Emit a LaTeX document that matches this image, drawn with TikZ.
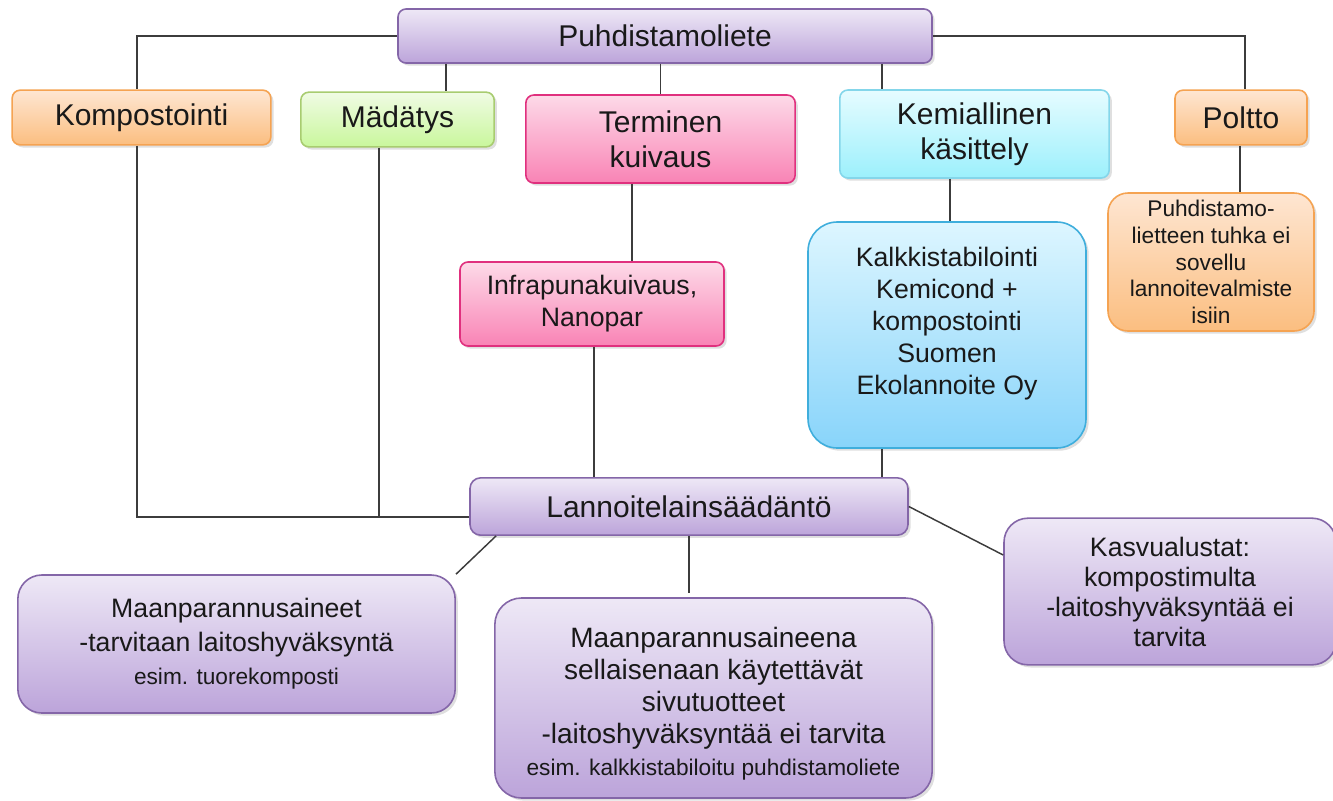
\documentclass[tikz,border=0pt]{standalone}
\usepackage{fontspec}
\setmainfont{Liberation Sans}
\usepackage{tikz}
\usetikzlibrary{shadows}

\definecolor{lavtop}{HTML}{EEE8F6}
\definecolor{lavbot}{HTML}{BCA4DA}
\definecolor{lavline}{HTML}{8466A8}
\definecolor{orgtop}{HTML}{FEE6D2}
\definecolor{orgbot}{HTML}{FBBE80}
\definecolor{orgline}{HTML}{F5A352}
\definecolor{grntop}{HTML}{F0FBE4}
\definecolor{grnbot}{HTML}{C9F79C}
\definecolor{grnline}{HTML}{A8CC70}
\definecolor{pnktop}{HTML}{FDDAE8}
\definecolor{pnkbot}{HTML}{F983B5}
\definecolor{pnkline}{HTML}{E0307E}
\definecolor{cyntop}{HTML}{E6FCFF}
\definecolor{cynbot}{HTML}{9CF0FC}
\definecolor{cynline}{HTML}{84D6EA}
\definecolor{skytop}{HTML}{DDF6FF}
\definecolor{skybot}{HTML}{88D4FA}
\definecolor{skyline}{HTML}{3FAEDC}
\definecolor{linkgray}{HTML}{3C3C3C}

\newcommand{\bigtxt}{\fontsize{22.5}{26}\selectfont}
\newcommand{\midtxt}{\fontsize{20}{24}\selectfont}
\newcommand{\smalltxt}{\fontsize{17}{20}\selectfont}

\begin{document}
\begin{tikzpicture}[x=0.75pt, y=-0.75pt,
    box/.style={draw, line width=1.2pt, rounded corners=6pt, align=center, inner sep=0pt,
        text=black!90, drop shadow={shadow xshift=2pt, shadow yshift=-2pt, opacity=0.25}},
    lavbox/.style={box, draw=lavline, top color=lavtop, bottom color=lavbot},
    orgbox/.style={box, draw=orgline, top color=orgtop, bottom color=orgbot},
    grnbox/.style={box, draw=grnline, top color=grntop, bottom color=grnbot},
    pnkbox/.style={box, draw=pnkline, top color=pnktop, bottom color=pnkbot},
    cynbox/.style={box, draw=cynline, top color=cyntop, bottom color=cynbot},
    skybox/.style={box, draw=skyline, top color=skytop, bottom color=skybot},
    link/.style={draw=linkgray, line width=1.1pt}]

    \useasboundingbox (0,0) rectangle (1333,800);

    % Top node
    \node[lavbox, minimum width=400.5pt, minimum height=40.5pt, font=\bigtxt] (liete) at (665,36) {Puhdistamoliete};

    % Treatment methods
    \node[orgbox, minimum width=194pt, minimum height=41pt, font=\bigtxt] (komp) at (141.5,117.5) {Kompostointi};
    \node[grnbox, minimum width=145pt, minimum height=41pt, font=\bigtxt] (mad) at (397.5,119.5) {Mädätys};
    \node[pnkbox, minimum width=202pt, minimum height=66pt, font=\bigtxt] (term) at (660.5,139) {Terminen\\kuivaus};
    \node[cynbox, minimum width=202pt, minimum height=66pt, font=\bigtxt] (kem) at (974.5,134) {Kemiallinen\\käsittely};
    \node[orgbox, minimum width=99pt, minimum height=41pt, font=\bigtxt] (poltto) at (1241,117.5) {Poltto};

    % Examples
    \node[pnkbox, minimum width=198pt, minimum height=63pt, font=\midtxt] (infra) at (592,304) {Infrapunakuivaus,\\Nanopar};
    \node[skybox, rounded corners=22pt, minimum width=208.5pt, minimum height=169.5pt, font=\midtxt] (kalkki) at (947,335)
        {Kalkkistabilointi\\Kemicond +\\kompostointi\\Suomen\\Ekolannoite Oy\rule[-22pt]{0pt}{0pt}};
    \node[orgbox, rounded corners=15pt, minimum width=154.5pt, minimum height=103.5pt, font=\smalltxt] (tuhka) at (1211,262)
        {Puhdistamo-\\lietteen tuhka ei\\sovellu\\lannoitevalmiste\\isiin};

    % Legislation
    \node[lavbox, rounded corners=8pt, minimum width=328.5pt, minimum height=43pt, font=\bigtxt] (laki) at (689,506.5) {Lannoitelainsäädäntö};
    \node[lavbox, rounded corners=18pt, minimum width=328pt, minimum height=103.5pt, font=\fontsize{20}{25}\selectfont] (maan) at (236.5,644)
        {Maanparannusaineet\\-tarvitaan laitoshyväksyntä\\{\smalltxt esim. tuorekomposti}};
    \node[lavbox, rounded corners=20pt, minimum width=328pt, minimum height=150pt, font=\fontsize{21}{24}\selectfont] (sivu) at (713.5,698)
        {\rule{0pt}{24pt}Maanparannusaineena\\sellaisenaan käytettävät\\sivutuotteet\\-laitoshyväksyntää ei tarvita\\{\smalltxt esim. kalkkistabiloitu puhdistamoliete}};
    \node[lavbox, rounded corners=18pt, minimum width=249pt, minimum height=110pt, font=\fontsize{20}{22.5}\selectfont] (kasvu) at (1170,591.5)
        {Kasvualustat:\\kompostimulta\\-laitoshyväksyntää ei\\tarvita};

    % Connectors from the top node
    \draw[link] (liete.west) -| (137,0 |- komp.north);
    \draw[link] (446,0 |- liete.south) -- (446,0 |- mad.north);
    \draw[link] (liete.south -| term.north) -- (term.north);
    \draw[link] (882,0 |- liete.south) -- (882,0 |- kem.north);
    \draw[link] (liete.east) -| (1245,0 |- poltto.north);

    % Connectors to the examples
    \draw[link] (632,0 |- term.south) -- (632,0 |- infra.north);
    \draw[link] (950,0 |- kem.south) -- (950,0 |- kalkki.north);
    \draw[link] (1240,0 |- poltto.south) -- (1240,0 |- tuhka.north);

    % Connectors to the legislation
    \draw[link] (137,0 |- komp.south) |- (laki.west |- 0,517);
    \draw[link] (379,0 |- mad.south) -- (379,517);
    \draw[link] (594,0 |- infra.south) -- (594,0 |- laki.north);
    \draw[link] (882,0 |- kalkki.south) -- (882,0 |- laki.north);

    % Connectors from the legislation
    \draw[link] (496,0 |- laki.south) -- (maan.north east);
    \draw[link, shorten >=3.5pt] (laki.south) -- (laki.south |- sivu.north);
    \draw[link] (laki.east) -- (kasvu.west |- 0,555);
\end{tikzpicture}
\end{document}
